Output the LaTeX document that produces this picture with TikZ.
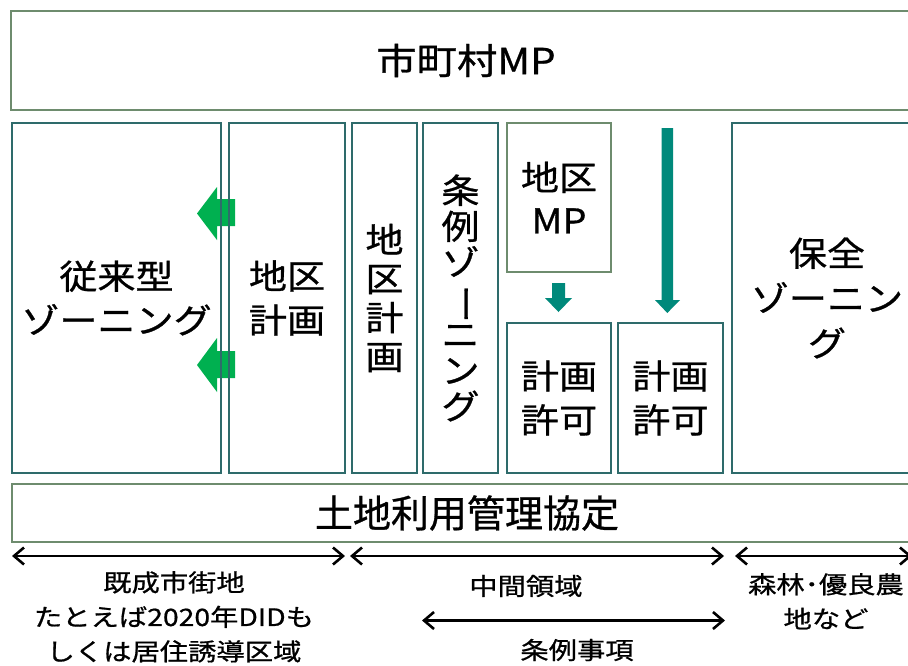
\documentclass[tikz,border=0pt]{standalone}
\usepackage{fontspec}
\setmainfont[FakeStretch=1.12,FakeBold=0.8]{Noto Sans CJK JP}
\newfontfamily\labfont[FakeStretch=1.18,FakeBold=0.8]{Noto Sans CJK JP}
\newfontfamily\plainfont[FakeBold=0.8]{Noto Sans CJK JP}
\usetikzlibrary{arrows.meta}
\definecolor{boxteal}{HTML}{2E6B6B}
\definecolor{boxgreen}{HTML}{6E8C6E}
\definecolor{arrteal}{HTML}{00897B}
\definecolor{arrgreen}{HTML}{00B050}
\tikzset{
  tealbox/.style={draw=boxteal, line width=1.6pt, rectangle, inner sep=0pt, align=center,
    font=\fontsize{34}{44}\selectfont},
  greenbox/.style={draw=boxgreen, line width=1.6pt, rectangle, inner sep=0pt, align=center},
  lab/.style={align=center, inner sep=0pt, font=\labfont\fontsize{24}{34.5}\selectfont},
  dimline/.style={{Straight Barb[length=10pt,width=17pt]}-{Straight Barb[length=10pt,width=17pt]},
    line width=2.6pt, black},
  blockarrow/.style={fill=#1, draw=none}
}
\begin{document}
\begin{tikzpicture}[x=1pt,y=-1pt]
\useasboundingbox (0,0) rectangle (908,665);
\fill[white] (0,0) rectangle (908,665);

% green block arrows (under the box borders)
\fill[blockarrow=arrgreen] (235,199) -- (217,199) -- (217,187) -- (197,213.5) -- (217,240) -- (217,226) -- (235,226) -- cycle;
\fill[blockarrow=arrgreen] (235,351) -- (217,351) -- (217,338) -- (197,365) -- (217,392) -- (217,378) -- (235,378) -- cycle;

% top box
\node[greenbox, minimum width=910pt, minimum height=99pt, font=\fontsize{36}{44}\selectfont]
  (mp) at (466,60.5) {市町村MP};

% row boxes
\node[tealbox, minimum width=209pt, minimum height=350pt] (trad) at (116.5,298) {従来型\\ゾーニング};
\node[tealbox, minimum width=116pt, minimum height=350pt] (dk1) at (287,298) {地区\\計画};
\node[tealbox, minimum width=65pt, minimum height=350pt, font=\fontsize{34}{39}\selectfont]
  (dk2) at (384.5,298) {地\\区\\計\\画};
\node[tealbox, minimum width=75pt, minimum height=350pt, font=\fontsize{34}{36}\selectfont]
  (jorei) at (460.5,298) {条\\例\\ゾ\\\rotatebox[origin=c]{-90}{ー}\\ニ\\ン\\グ};
\node[greenbox, minimum width=104pt, minimum height=149pt, font=\fontsize{34}{43}\selectfont]
  (dmp) at (559,197.5) {地区\\MP};
\node[tealbox, minimum width=104pt, minimum height=150pt] (pp1) at (559,398) {計画\\許可};
\node[tealbox, minimum width=105pt, minimum height=150pt] (pp2) at (670.5,398) {計画\\許可};
\node[tealbox, minimum width=190pt, minimum height=350pt, font=\fontsize{34}{45}\selectfont]
  (hozen) at (827,298) {保全\\ゾーニン\\グ};

% teal block arrows
\fill[blockarrow=arrteal] (552,283) -- (565,283) -- (565,298) -- (572,298) -- (558.5,312) -- (545,298) -- (552,298) -- cycle;
\fill[blockarrow=arrteal] (661.5,128) -- (673,128) -- (673,300) -- (680,300) -- (667.3,313) -- (655,300) -- (661.5,300) -- cycle;

% bottom box
\node[greenbox, minimum width=910pt, minimum height=58pt, font=\plainfont\fontsize{38}{44}\selectfont]
  (kyotei) at (467,513) {土地利用管理協定};

% dimension arrows
\coordinate (a1) at (12,556);
\coordinate (a2) at (345,556);
\coordinate (b1) at (350,556);
\coordinate (b2) at (724,556);
\coordinate (c1) at (735,556);
\coordinate (c2) at (912,556);
\coordinate (d1) at (422,620.5);
\coordinate (d2) at (725,620.5);
\draw[dimline] (a1) -- (a2);
\draw[dimline] (b1) -- (b2);
\draw[dimline] (c1) -- (c2);
\draw[dimline] (d1) -- (d2);

% labels
\node[lab, anchor=north] (kisei) at (174,571) {既成市街地\\たとえば2020年DIDも\\しくは居住誘導区域};
\node[lab] (chukan) at (526,586) {中間領域};
\node[lab] (jorei2) at (577,650) {条例事項};
\node[lab, anchor=north] (shinrin) at (826,573) {森林･優良農\\地など};
\end{tikzpicture}
\end{document}
